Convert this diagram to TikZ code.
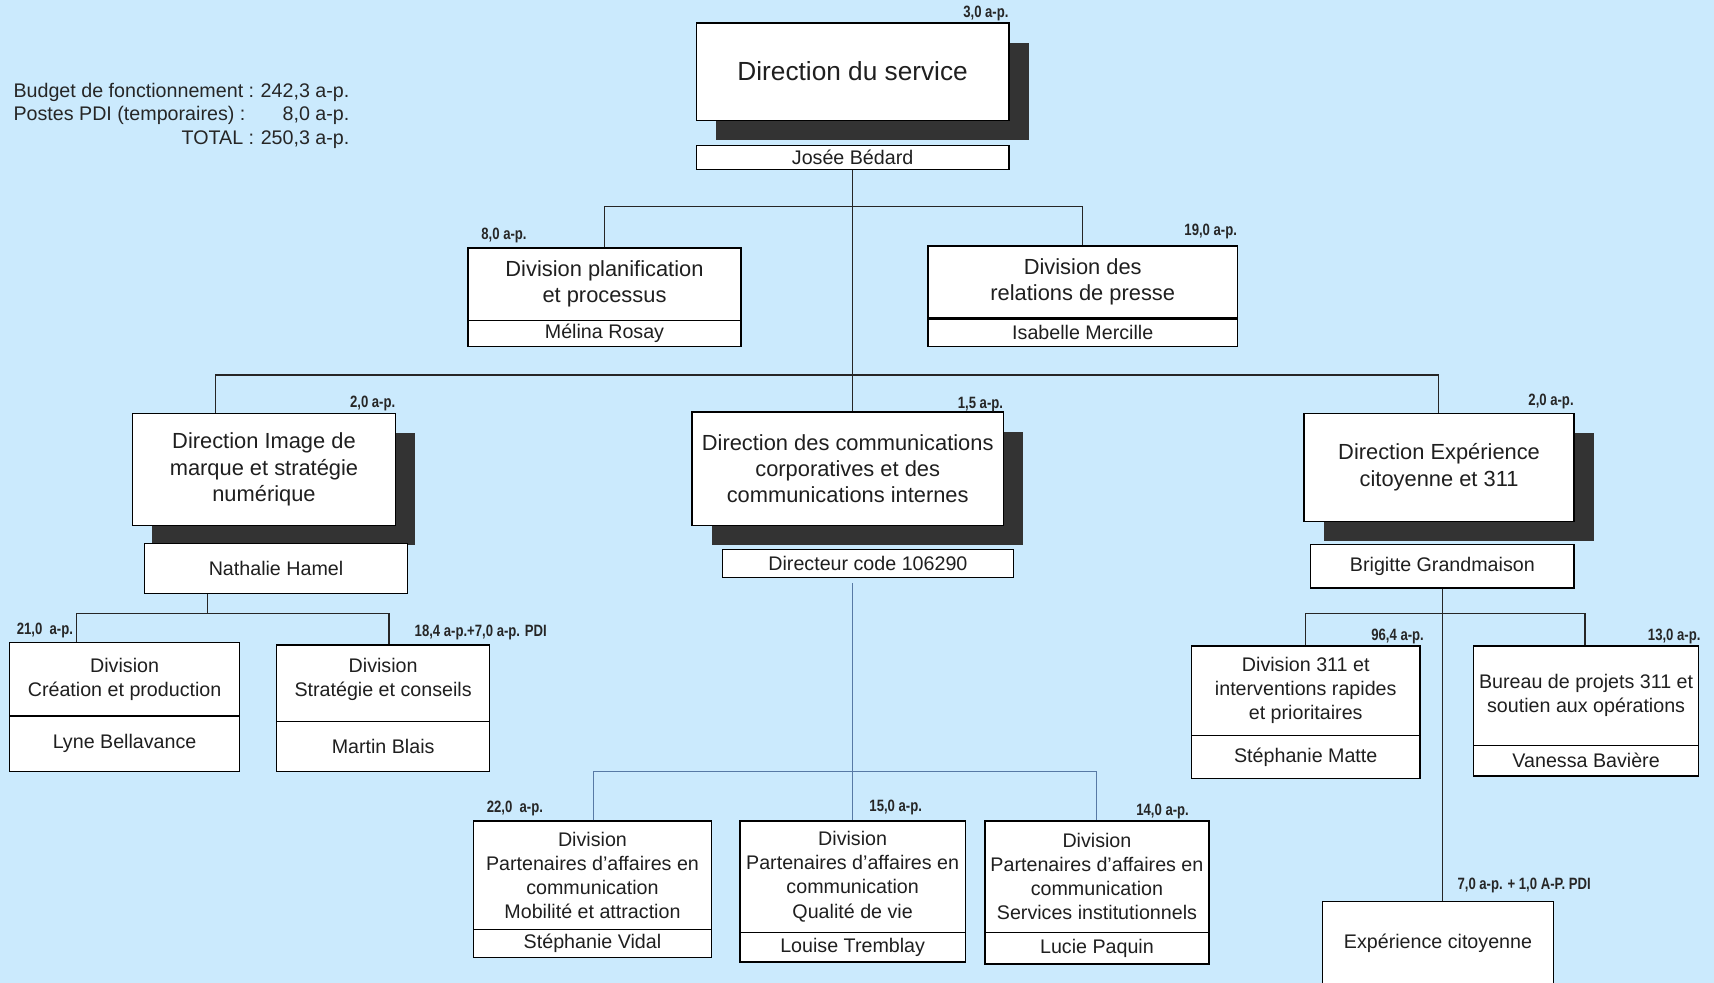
\documentclass[tikz,border=0pt]{standalone}
\usepackage{fontspec}
\setmainfont{Liberation Sans}
\newfontfamily\apfont[FakeStretch=0.8]{Liberation Sans}
\usetikzlibrary{calc,shadows}
\definecolor{bgblue}{RGB}{203,234,253}
\definecolor{shadowgray}{RGB}{51,51,51}
\definecolor{linkblue}{RGB}{88,122,165}
\tikzset{
  unitbox/.style={draw, fill=white, line width=0.6pt, inner sep=0pt, align=center, text=black!88},
  dirbox/.style={unitbox, drop shadow={shadow xshift=9pt, shadow yshift=-9pt, fill=shadowgray, opacity=1}},
  titlefont/.style={font=\fontsize{10}{12}\selectfont},
  smallfont/.style={font=\fontsize{9}{11}\selectfont},
  namebox/.style={unitbox, smallfont},
  aplabel/.style={font=\apfont\bfseries\fontsize{7.5}{8}\selectfont, inner sep=0pt, text=black!85},
  link/.style={line width=0.6pt, draw=black!85},
  bluelink/.style={line width=0.6pt, draw=linkblue},
}

\begin{document}
\begin{tikzpicture}[x=0.5pt,y=-0.5pt]
    \clip (0,0) rectangle (1568,899); % page = reference
    \fill[bgblue] (0,0) rectangle (1568,899);

    \node[anchor=west, font=\fontsize{9}{10.75}\selectfont, inner sep=0pt, text=black!85] (budget) at (12,106) {%
      \begin{tabular}{@{}l@{\hspace{3pt}}r@{}}
        Budget de fonctionnement : & 242,3 a-p.\\
        Postes PDI (temporaires) : & 8,0 a-p.\\
        \multicolumn{1}{@{}r@{\hspace{3pt}}}{TOTAL :} & 250,3 a-p.
      \end{tabular}};

    % direction du service
    \node[dirbox, minimum width=143pt, minimum height=44.5pt, font=\fontsize{12}{14}\selectfont] (dirsvc) at (780,65.5) {Direction du service};
    \node[namebox, minimum width=143pt, minimum height=11pt] (dirsvcN) at (780,144) {Josée Bédard};
    \node[aplabel, anchor=east] (apdirsvc) at (923,12) {3,0 a-p.};

    % divisions rattachees
    \node[unitbox, titlefont, minimum width=125pt, minimum height=33pt] (plan) at (553,260) {Division planification\\et processus};
    \node[namebox, minimum width=125pt, minimum height=12pt] (planN) at (553,305) {Mélina Rosay};
    \node[aplabel, anchor=west] (applan) at (440,215) {8,0 a-p.};

    \node[unitbox, titlefont, minimum width=141.5pt, minimum height=33pt] (presse) at (990.5,258) {Division des\\relations de presse};
    \node[namebox, minimum width=141.5pt, minimum height=13pt] (presseN) at (990.5,304) {Isabelle Mercille};
    \node[aplabel, anchor=east] (appresse) at (1132,212) {19,0 a-p.};
    \draw[line width=1.4pt] (presse.south west) -- (presse.south east);

    % directions
    \node[dirbox, titlefont, minimum width=120.5pt, minimum height=51.5pt] (image) at (241.5,429.5) {Direction Image de\\marque et stratégie\\numérique};
    \node[namebox, minimum width=120.5pt, minimum height=23pt] (imageN) at (252.5,520) {Nathalie Hamel};
    \node[aplabel, anchor=east] (apimage) at (362,369) {2,0 a-p.};

    \node[dirbox, titlefont, minimum width=142.5pt, minimum height=52pt] (comm) at (775.5,429) {Direction des communications\\corporatives et des\\communications internes};
    \node[namebox, minimum width=133pt, minimum height=12.5pt] (commN) at (794,515.5) {Directeur code 106290};
    \node[aplabel, anchor=east] (apcomm) at (918,370) {1,5 a-p.};

    \node[dirbox, titlefont, minimum width=123.5pt, minimum height=49.5pt] (exp) at (1316.5,427.5) {Direction Expérience\\citoyenne et 311};
    \node[namebox, minimum width=120.5pt, minimum height=20pt] (expN) at (1319.5,518) {Brigitte Grandmaison};
    \node[aplabel, anchor=east] (apexp) at (1440,367) {2,0 a-p.};

    % sous image de marque
    \node[unitbox, smallfont, minimum width=105pt, minimum height=33.5pt] (creation) at (114,621.5) {Division\\Création et production};
    \node[namebox, minimum width=105pt, minimum height=25.5pt] (creationN) at (114,680.5) {Lyne Bellavance};
    \node[aplabel, anchor=west] (apcreation) at (15,577) {21,0\ \ a-p.};

    \node[unitbox, smallfont, minimum width=97.5pt, minimum height=35pt, text depth=5pt] (strategie) at (350.5,625) {Division\\Stratégie et conseils};
    \node[namebox, minimum width=97.5pt, minimum height=23pt] (strategieN) at (350.5,683) {Martin Blais};
    \node[aplabel, anchor=west] (apstrategie) at (379,579) {18,4 a-p.+7,0 a-p. PDI};

    % sous experience citoyenne
    \node[unitbox, smallfont, minimum width=104.5pt, minimum height=41pt] (d311) at (1194.5,632) {Division 311 et\\interventions rapides\\et prioritaires};
    \node[namebox, minimum width=104.5pt, minimum height=19.5pt] (d311N) at (1194.5,692.5) {Stéphanie Matte};
    \node[aplabel, anchor=east] (apd311) at (1303,582) {96,4 a-p.};

    \node[unitbox, smallfont, minimum width=103pt, minimum height=45.5pt] (bureau) at (1451,636.5) {Bureau de projets 311 et\\soutien aux opérations};
    \node[namebox, minimum width=103pt, minimum height=14pt] (bureauN) at (1451,696) {Vanessa Bavière};
    \node[aplabel, anchor=east] (apbureau) at (1556,582) {13,0 a-p.};

    \node[unitbox, smallfont, minimum width=105.5pt, minimum height=38pt] (expcit) at (1315.5,863) {Expérience citoyenne};
    \node[aplabel, anchor=west] (apexpcit) at (1333,810) {7,0 a-p. + 1,0 A-P. PDI};

    % sous communications
    \node[unitbox, smallfont, minimum width=109pt, minimum height=49.5pt] (mobil) at (542,800.5) {Division\\Partenaires d’affaires en\\communication\\Mobilité et attraction};
    \node[namebox, minimum width=109pt, minimum height=13pt] (mobilN) at (542,863) {Stéphanie Vidal};
    \node[aplabel, anchor=west] (apmobil) at (445,740) {22,0\ \ a-p.};

    \node[unitbox, smallfont, minimum width=103pt, minimum height=51pt] (qualite) at (780,802) {Division\\Partenaires d’affaires en\\communication\\Qualité de vie};
    \node[namebox, minimum width=103pt, minimum height=13.5pt] (qualiteN) at (780,866.5) {Louise Tremblay};
    \node[aplabel, anchor=west] (apqualite) at (795,739) {15,0 a-p.};

    \node[unitbox, smallfont, minimum width=102.5pt, minimum height=51pt] (services) at (1003.5,802) {Division\\Partenaires d’affaires en\\communication\\Services institutionnels};
    \node[namebox, minimum width=102.5pt, minimum height=14.5pt] (servicesN) at (1003.5,867.5) {Lucie Paquin};
    \node[aplabel, anchor=east] (apservices) at (1088,742) {14,0 a-p.};

    % liaisons
    \coordinate (busPlan)   at (553,189);
    \coordinate (busPresse) at (990,189);
    \coordinate (busImage)  at (197,343);
    \coordinate (busExp)    at (1316,343);
    \coordinate (busNat)    at (190,561);
    \coordinate (busCrea)   at (70,561);
    \coordinate (busStrat)  at (356,561);
    \coordinate (bus311)    at (1194,561);
    \coordinate (busBureau) at (1450,561);
    \coordinate (busMob)    at (543,706);
    \coordinate (busQual)   at (780,706);
    \coordinate (busServ)   at (1003,706);

    \draw[link] (dirsvcN.south) -- (dirsvcN.south |- comm.north);
    \draw[link] (busPlan |- plan.north) -- (busPlan) -- (busPresse) -- (busPresse |- presse.north);
    \draw[link] (busImage |- image.north) -- (busImage) -- (busExp) -- (busExp |- exp.north);
    \draw[link] (busNat |- imageN.south) -- (busNat);
    \draw[link] (busCrea |- creation.north) -- (busCrea) -- (busStrat) -- (busStrat |- strategie.north);
    \draw[link] (expN.south) -- (expN.south |- expcit.north);
    \draw[link] (bus311 |- d311.north) -- (bus311) -- (busBureau) -- (busBureau |- bureau.north);
    \draw[bluelink] ($(busQual |- commN.south)+(0,5)$) -- (busQual |- qualite.north);
    \draw[bluelink] (busMob |- mobil.north) -- (busMob) -- (busServ) -- (busServ |- services.north);
  \end{tikzpicture}
\end{document}
